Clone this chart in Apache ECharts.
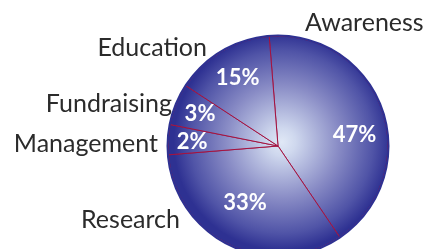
<!DOCTYPE html>
<html>
<head>
<meta charset="utf-8">
<script src="https://cdn.jsdelivr.net/npm/echarts@6/dist/echarts.min.js"></script>
<style>
html,body{margin:0;padding:0;background:#fff;}
#chart{width:427px;height:249px;}
</style>
</head>
<body>
<div id="chart"></div>
<script>
// Data (clockwise from the top, as drawn)
const categories = ['Awareness', 'Research', 'Management', 'Fundraising', 'Education'];
const sliceShares = [41.8, 33.2, 4.4, 6.1, 14.5];      // angular share
const percentLabels = ['47%', '33%', '2%', '3%', '15%']; // printed values

// Layout / style
const CX = 278, CY = 146, R = 110;
const nameAnchors = [
  [305, 23, 'left'],
  [180, 220, 'right'],
  [158, 144, 'right'],
  [172, 104, 'right'],
  [207, 48, 'right']
];
const pctShift = [[0, 16], [2, -16], [-5, 1], [-3, -1], [1, 2]];

const grad = {
  type: 'radial', x: 282, y: 142, r: 114, global: true,
  colorStops: [
    { offset: 0, color: '#e0e8f6' },
    { offset: 0.12, color: '#cfd8ee' },
    { offset: 0.5, color: '#888bc5' },
    { offset: 0.8, color: '#5054a7' },
    { offset: 0.95, color: '#2e3192' },
    { offset: 1, color: '#2e3192' }
  ]
};

const chart = echarts.init(document.getElementById('chart'), null, { renderer: 'canvas' });
chart.setOption({
  animation: false,
  series: [
    {
      type: 'pie',
      center: [CX, CY],
      radius: [0, R],
      startAngle: 94.6,
      clockwise: true,
      avoidLabelOverlap: false,
      silent: true,
      data: categories.map((c, i) => ({ name: c, value: sliceShares[i] })),
      itemStyle: { color: grad, borderColor: '#a3123f', borderWidth: 1 },
      label: {
        show: true,
        position: 'outside',
        formatter: '{b}',
        fontFamily: 'Lato',
        fontSize: 25,
        color: '#2b2b2b'
      },
      labelLine: { show: false },
      labelLayout: function (p) {
        const a = nameAnchors[p.dataIndex];
        return { x: a[0], y: a[1], align: a[2], verticalAlign: 'middle' };
      },
      z: 1
    },
    {
      type: 'pie',
      center: [CX, CY],
      radius: [R - 0.6, R + 1.5],
      silent: true,
      data: [{ value: 1, name: 'rim' }],
      itemStyle: { color: '#2e3192' },
      label: { show: false },
      labelLine: { show: false },
      z: 2
    },
    {
      type: 'pie',
      center: [CX, CY],
      radius: [0, 156],
      startAngle: 94.6,
      clockwise: true,
      silent: true,
      avoidLabelOverlap: false,
      data: categories.map((c, i) => ({ name: c, value: sliceShares[i] })),
      itemStyle: { color: 'rgba(0,0,0,0)', borderWidth: 0 },
      label: {
        show: true,
        position: 'inside',
        formatter: p => percentLabels[p.dataIndex],
        fontFamily: 'Lato',
        fontWeight: 'bold',
        fontSize: 22,
        color: '#ffffff'
      },
      labelLine: { show: false },
      labelLayout: function (p) {
        const s = pctShift[p.dataIndex];
        return { dx: s[0], dy: s[1] };
      },
      z: 3
    }
  ]
});
</script>
</body>
</html>
